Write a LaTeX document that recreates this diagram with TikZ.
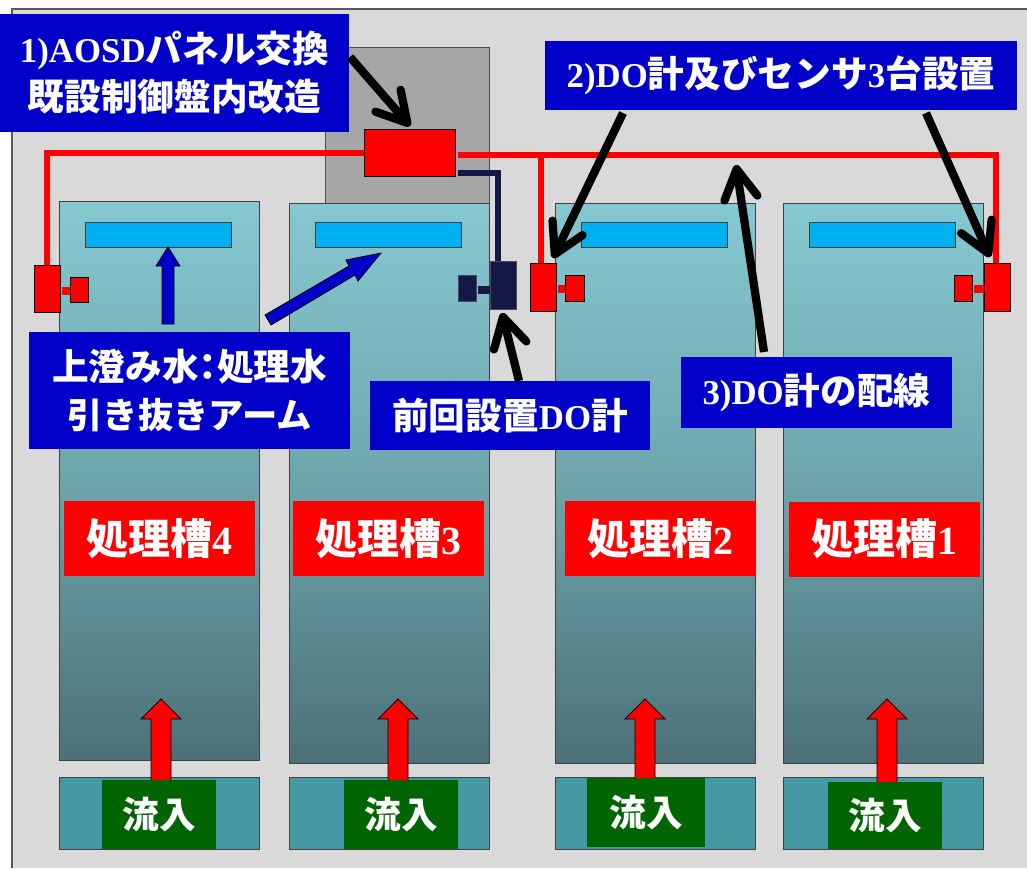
\documentclass[tikz,border=0pt]{standalone}
\usepackage{fontspec}
\setmainfont{Liberation Serif}[BoldFont={Liberation Serif Bold},Scale=0.95]
\newfontfamily\jp{Noto Sans CJK JP Bold}
\usetikzlibrary{arrows.meta,calc}
\definecolor{panelc}{RGB}{217,217,217}
\definecolor{grayc}{RGB}{166,166,166}
\definecolor{tanktop}{RGB}{134,200,208}
\definecolor{tankmid}{RGB}{110,165,173}
\definecolor{tankbot}{RGB}{76,112,120}
\definecolor{inflowc}{RGB}{70,152,162}
\definecolor{barc}{RGB}{0,176,240}
\definecolor{labelb}{RGB}{0,0,200}
\definecolor{greenc}{RGB}{0,100,0}
\definecolor{navyc}{RGB}{20,24,72}
\newcommand{\J}[1]{{\jp #1}}
\newcommand{\UpArr}[3]{\draw[redarrow] (#1,#3) -- (#1-10,#3) -- (#1-10,#2+20) -- (#1-20,#2+20) -- (#1,#2) -- (#1+20,#2+20) -- (#1+10,#2+20) -- (#1+10,#3) -- cycle;}
\tikzset{
  sz/.style 2 args={minimum width=#1*0.75pt,minimum height=#2*0.75pt,inner sep=0pt,outer sep=0pt},
  tank/.style={draw=black!75,line width=0.75pt,top color=tanktop,bottom color=tankbot,middle color=tankmid},
  bar/.style={draw=black!75,line width=0.75pt,fill=barc,sz={146}{25}},
  inflow/.style={draw=black!75,line width=0.75pt,fill=inflowc,sz={200}{72}},
  bluelabel/.style={fill=labelb,text=white,font=\bfseries\fontsize{27.5}{36}\selectfont,align=center},
  redlabel/.style={fill=red,text=white,font=\bfseries\fontsize{31.5}{34}\selectfont,sz={191}{75}},
  greenlabel/.style={fill=greenc,text=white,font=\bfseries\fontsize{27.5}{34}\selectfont,sz={114}{68}},
  redbox/.style={draw=black,line width=0.6pt,fill=red},
  navybox/.style={draw=black!70,line width=0.6pt,fill=navyc},
  redline/.style={draw=red,line width=5pt},
  navyline/.style={draw=navyc,line width=5pt},
  redarrow/.style={draw=black,line width=0.6pt,fill=red},
  bluearrow/.style={draw=black,line width=0.6pt,fill=labelb},
  callout/.style={draw=black,line width=6.2pt,-{Straight Barb[length=22pt,width=25pt,line width=6.2pt,round]}},
}
\begin{document}
\begin{tikzpicture}[x=0.75pt,y=-0.75pt]
\useasboundingbox (0,0) rectangle (1027,868);
\fill[white] (0,0) rectangle (1027,868);
% panel
\fill[panelc] (12,9) rectangle (1027,868);
\draw[black!65,line width=0.9pt] (12,868) -- (12,9) -- (1027,9);
% control cabinet
\node (cab) [draw=black!70,line width=0.75pt,fill=grayc,sz={164}{156}] at (407.5,125) {};
% tanks
\node (t4) [tank,sz={200}{559}] at (159.5,480.5) {};
\node (t3) [tank,sz={200}{560}] at (389.5,483) {};
\node (t2) [tank,sz={200}{560}] at (655.5,483) {};
\node (t1) [tank,sz={200}{560}] at (883.5,483) {};
\node (b4) [bar] at (158.5,234.5) {};
\node (b3) [bar] at (388.5,234.5) {};
\node (b2) [bar] at (654.5,234.5) {};
\node (b1) [bar] at (882.5,234.5) {};
\node (i4) [inflow] at (159.5,813) {};
\node (i3) [inflow] at (389.5,813) {};
\node (i2) [inflow] at (655.5,813) {};
\node (i1) [inflow] at (883.5,813) {};
\UpArr{161}{699}{782}
\UpArr{398}{699}{782}
\UpArr{645}{699}{780}
\UpArr{887}{699}{784}
\node (g4) [greenlabel,sz={114}{69}] at (159,814.5) {\raisebox{-1pt}{\J{流入}}};
\node (g3) [greenlabel,sz={114}{69}] at (401,814.5) {\raisebox{-1pt}{\J{流入}}};
\node (g2) [greenlabel,sz={118}{69}] at (646,812.5) {\raisebox{-1pt}{\J{流入}}};
\node (g1) [greenlabel,sz={114}{67}] at (885,815.5) {\raisebox{-1pt}{\J{流入}}};
% controller
\node (ctrl) [redbox,sz={91}{47}] at (409.5,152.5) {};
% sensors
\node (s4) [redbox,sz={26}{47}] at (47,288.5) {};
\node (p4) [redbox,sz={18}{25}] at (79,289.5) {};
\node (s3) [navybox,sz={26}{48}] at (503,285) {};
\node (p3) [navybox,sz={18}{26}] at (467,288) {};
\node (s2) [redbox,sz={26}{48}] at (543,287) {};
\node (p2) [redbox,sz={19}{26}] at (574.5,288) {};
\node (s1) [redbox,sz={26}{48}] at (997,287) {};
\node (p1) [redbox,sz={18}{26}] at (963,288) {};
\draw[draw=red,line width=6pt] (s4.east |- 0,291) ++(2,0) -- (p4.west |- 0,291);
\draw[draw=navyc,line width=6pt] (p3.east |- 0,290) ++(2,0) -- (s3.west |- 0,290);
\draw[draw=red,line width=6pt] (s2.east |- 0,289) ++(2,0) -- (p2.west |- 0,289);
\draw[draw=red,line width=6pt] (p1.east |- 0,289) ++(2,0) -- (s1.west |- 0,289);
% wiring
\coordinate (wr) at (458,155);
\coordinate (wb) at (541,155);
\coordinate (wn) at (458,173);
\draw[redline] (ctrl.west |- 0,153) -| (s4.north);
\draw[redline] (wr) -| (996,263);
\draw[draw=red,line width=4.5pt] (wb) -- (wb |- s2.north);
\draw[navyline] (wn) -| (498,261);
% blue arrows
\draw[bluearrow] (162,324) -- (162,266) -- (156,266) -- (168,247) -- (180,266) -- (174,266) -- (174,324) -- cycle;
\draw[bluearrow] (265,315) -- (349,266) -- (346,260) -- (381,253) -- (358,281) -- (355,275) -- (271,325) -- cycle;
% labels
\node (l1) [bluelabel,sz={349}{118}] at (174.5,73) {1)AOSD\J{パネル交換}\\\J{既設制御盤内改造}};
\node (l2) [bluelabel,sz={472}{69}] at (781,75.5) {\raisebox{-1.5pt}{2)DO\J{計及びセンサ}3\J{台設置}}};
\node (l3) [bluelabel,sz={271}{71}] at (816.5,392.5) {\raisebox{-1pt}{3)DO\J{計の配線}}};
\node (la) [bluelabel,sz={321}{117}] at (189.5,390.5) {\J{上澄み水\hspace{-0.25em}：\hspace{-0.25em}処理水}\\\fontsize{26.5}{36}\selectfont\J{引き抜きアーム}};
\node (lp) [bluelabel,sz={280}{69}] at (510,415.5) {\J{前回設置}DO\J{計}};
\node (r4) [redlabel] at (159.5,538.5) {\raisebox{-1.5pt}{\J{処理槽}4}};
\node (r3) [redlabel] at (388.5,538.5) {\raisebox{-1.5pt}{\J{処理槽}3}};
\node (r2) [redlabel] at (660.5,538.5) {\raisebox{-1.5pt}{\J{処理槽}2}};
\node (r1) [redlabel] at (884.5,539) {\raisebox{-1.5pt}{\J{処理槽}1}};
% callouts
\coordinate (a1s) at (350,57);
\coordinate (a1t) at (410,126);
\coordinate (a2s) at (623,113);
\coordinate (a2t) at (553,258);
\coordinate (a3s) at (926,113);
\coordinate (a3t) at (990,257);
\coordinate (a4s) at (764,352);
\coordinate (a4t) at (736,165);
\coordinate (a5s) at (519,381);
\coordinate (a5t) at (502,313);
\draw[callout] (a1s) -- (a1t);
\draw[callout] (a2s) -- (a2t);
\draw[callout] (a3s) -- (a3t);
\draw[callout] (a4s) -- (a4t);
\draw[callout] (a5s) -- (a5t);
\end{tikzpicture}
\end{document}
